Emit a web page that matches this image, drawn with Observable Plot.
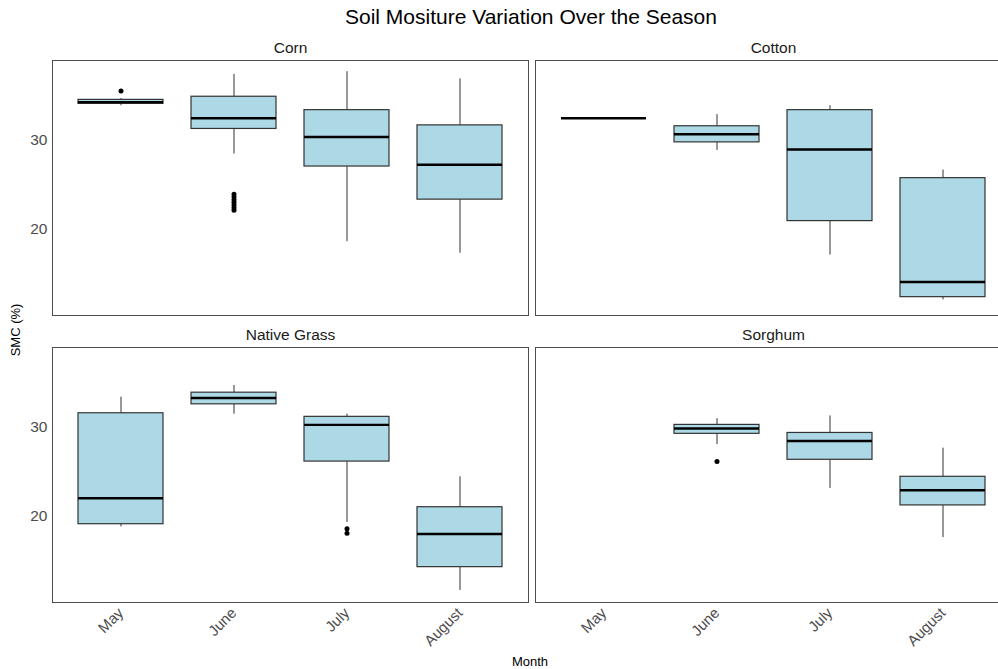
<!DOCTYPE html>
<html><head><meta charset="utf-8">
<script src="https://cdn.jsdelivr.net/npm/d3@7"></script>
<script src="https://cdn.jsdelivr.net/npm/@observablehq/plot@0.6"></script>
<style>
html,body{margin:0;padding:0;background:#fff;overflow:hidden;width:998px;height:669px;}
#title{position:absolute;left:0;top:5px;width:1062px;text-align:center;font-family:"Liberation Sans",Arial,sans-serif;font-size:21px;line-height:24px;color:#000;}
#chart{position:absolute;left:0;top:30px;width:1013px;}
#chart svg{max-width:none !important;}
</style></head><body>
<div id="title">Soil Mositure Variation Over the Season</div>
<div id="chart"></div>
<script>
const crops = ["Corn", "Cotton", "Native Grass", "Sorghum"];
const cropCol = [0, 1, 0, 1];
const cropRow = [0, 0, 1, 1];
const months = ["May", "June", "July", "August"];

const boxCrop  = ["Corn","Corn","Corn","Corn","Cotton","Cotton","Cotton","Cotton","Native Grass","Native Grass","Native Grass","Native Grass","Sorghum","Sorghum","Sorghum"];
const boxMonth = ["May","June","July","August","May","June","July","August","May","June","July","August","June","July","August"];
const lower    = [33.8, 28.4, 18.6, 17.3, 32.4, 28.8, 17.1, 12.1, 18.8, 31.4, 19.3, 11.7, 28.0, 23.1, 17.6];
const q1       = [34.0, 31.2, 27.0, 23.3, 32.4, 29.7, 20.9, 12.4, 19.1, 32.5, 26.1, 14.3, 29.2, 26.3, 21.2];
const median   = [34.2, 32.4, 30.3, 27.2, 32.4, 30.6, 28.9, 14.1, 22.0, 33.2, 30.2, 18.0, 29.8, 28.4, 22.9];
const q3       = [34.45, 34.8, 33.3, 31.6, 32.4, 31.5, 33.3, 25.7, 31.5, 33.8, 31.1, 21.0, 30.2, 29.3, 24.4];
const upper    = [34.6, 37.3, 37.6, 36.8, 32.4, 32.8, 33.8, 26.6, 33.3, 34.6, 31.4, 24.4, 30.9, 31.2, 27.6];

const outCrop  = ["Corn","Corn","Corn","Corn","Corn","Corn","Corn","Corn","Native Grass","Native Grass","Sorghum"];
const outMonth = ["May","June","June","June","June","June","June","June","July","July","June"];
const outValue = [35.45, 23.9, 23.6, 23.3, 23.0, 22.7, 22.4, 22.1, 18.6, 18.1, 26.1];

const yTicks = [20, 30];

const colOf = c => cropCol[crops.indexOf(c)];
const rowOf = c => cropRow[crops.indexOf(c)];

const boxes = boxMonth.map((m, i) => ({
  crop: boxCrop[i], month: m, lower: lower[i], q1: q1[i], median: median[i], q3: q3[i], upper: upper[i],
  col: colOf(boxCrop[i]), row: rowOf(boxCrop[i])
}));
const outliers = outValue.map((v, i) => ({
  crop: outCrop[i], month: outMonth[i], value: v, col: colOf(outCrop[i]), row: rowOf(outCrop[i])
}));
const panels = crops.map((c, i) => ({crop: c, col: cropCol[i], row: cropRow[i]}));

const plot = Plot.plot({
  width: 1013,
  height: 639,
  marginTop: 30,
  marginBottom: 67,
  marginLeft: 51,
  marginRight: 1,
  style: {fontFamily: '"Liberation Sans", Arial, sans-serif', fontSize: "15px", background: "white", overflow: "visible", maxWidth: "none"},
  fx: {domain: [0, 1], paddingInner: 0.01446, paddingOuter: 0, axis: null},
  fy: {domain: [0, 1], paddingInner: 0.1115, paddingOuter: 0, axis: null},
  x: {domain: months, paddingInner: 0.25, paddingOuter: 0.225, label: null},
  y: {domain: [10.35, 38.85], label: null},
  marks: [
    Plot.frame({stroke: "#4d4d4d", strokeWidth: 1}),
    Plot.ruleX(boxes, {x: "month", y1: "lower", y2: "q1", fx: "col", fy: "row", stroke: "#333", strokeWidth: 1}),
    Plot.ruleX(boxes, {x: "month", y1: "q3", y2: "upper", fx: "col", fy: "row", stroke: "#333", strokeWidth: 1}),
    Plot.barY(boxes, {x: "month", y1: "q1", y2: "q3", fx: "col", fy: "row", fill: "#ADD8E6", stroke: "#333", strokeWidth: 1.2}),
    Plot.tickY(boxes, {x: "month", y: "median", fx: "col", fy: "row", stroke: "#000", strokeWidth: 2.4}),
    Plot.dot(outliers, {x: "month", y: "value", fx: "col", fy: "row", r: 2.5, fill: "#000", stroke: "none"}),
    Plot.text(panels, {fx: "col", fy: "row", text: "crop", frameAnchor: "top", lineAnchor: "middle", dy: -12, fontSize: 15.5, fill: "#1a1a1a"}),
    Plot.axisY({ticks: yTicks, tickSize: 0, tickPadding: 5, facetAnchor: "left", label: null, fontSize: 15.5, color: "#4d4d4d"}),
    Plot.axisX({tickSize: 0, tickPadding: 8, tickRotate: -45, facetAnchor: "bottom", label: null, fontSize: 15, color: "#4d4d4d"})
  ]
});

const svg = d3.select(plot);
svg.append("text")
  .attr("transform", "translate(17,300) rotate(-90)")
  .attr("text-anchor", "middle")
  .attr("dominant-baseline", "middle")
  .attr("font-size", 13)
  .attr("fill", "#000")
  .text("SMC (%)");
svg.append("text")
  .attr("x", 530).attr("y", 633)
  .attr("text-anchor", "middle")
  .attr("dominant-baseline", "middle")
  .attr("font-size", 13)
  .attr("fill", "#000")
  .text("Month");

document.getElementById("chart").appendChild(plot);
</script>
</body></html>
